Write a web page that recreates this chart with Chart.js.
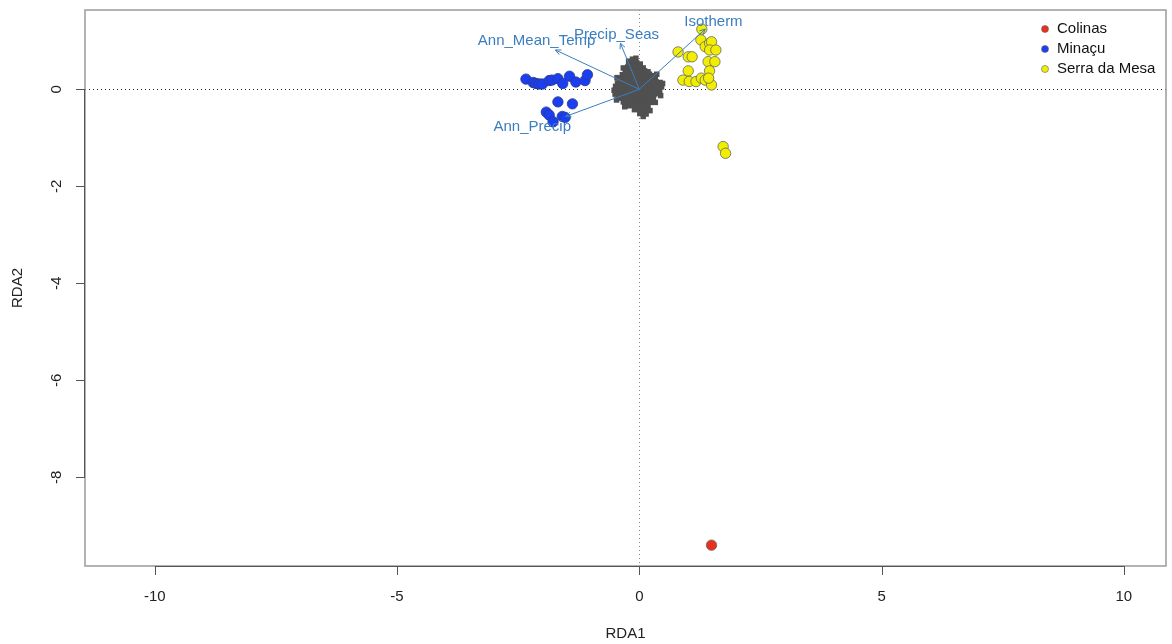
<!DOCTYPE html>
<html>
<head>
<meta charset="utf-8">
<script src="https://cdn.jsdelivr.net/npm/chart.js@4.4.1/dist/chart.umd.min.js"></script>
<style>
  body { margin: 0; background: #fff; }
  #wrap { width: 1172px; height: 644px; }
</style>
</head>
<body>
<div id="wrap"><canvas id="rdaChart" width="1172" height="644"></canvas></div>
<script>
// site scores per locality (RDA1, RDA2)
const colinasX = [1.49];
const colinasY = [-9.40];

const minacuX = [-2.34, -2.19, -2.13, -2.07, -2.00, -1.86, -1.80, -1.68, -1.58, -1.44, -1.31, -1.12, -1.07,
                 -1.68, -1.38, -1.92, -1.86, -1.59, -1.53, -1.78];
const minacuY = [0.21, 0.14, 0.12, 0.11, 0.11, 0.18, 0.19, 0.22, 0.12, 0.27, 0.15, 0.18, 0.30,
                 -0.26, -0.30, -0.47, -0.53, -0.56, -0.58, -0.67];

const serraX = [1.29, 0.80, 1.01, 1.09, 1.27, 1.36, 1.45, 1.49, 1.45, 1.58, 1.42, 1.56, 1.01, 1.45,
                0.90, 1.03, 1.17, 1.28, 1.36, 1.49, 1.43, 1.73, 1.78];
const serraY = [1.24, 0.77, 0.67, 0.67, 1.02, 0.88, 0.95, 0.98, 0.81, 0.81, 0.57, 0.57, 0.38, 0.38,
                0.19, 0.16, 0.16, 0.23, 0.19, 0.09, 0.23, -1.18, -1.32];

// species (SNP) scores, the grey cloud at the origin
const speciesScores = [
  [-0.14,0.62],[-0.07,0.64],[-0.22,0.58],
  [-0.21,0.53],[-0.13,0.55],[-0.05,0.54],[0.02,0.52],
  [-0.24,0.46],[-0.16,0.47],[-0.08,0.45],[0.00,0.46],[0.08,0.44],[-0.33,0.44],
  [-0.29,0.37],[-0.21,0.39],[-0.13,0.38],[-0.05,0.37],[0.03,0.39],[0.11,0.38],[0.18,0.36],
  [-0.35,0.30],[-0.27,0.31],[-0.19,0.29],[-0.11,0.30],[-0.03,0.31],[0.05,0.29],[0.13,0.30],[0.21,0.31],[0.27,0.28],[0.36,0.31],
  [-0.39,0.22],[-0.31,0.23],[-0.23,0.21],[-0.15,0.22],[-0.07,0.23],[0.01,0.21],[0.09,0.22],[0.17,0.23],[0.25,0.21],[0.33,0.22],[-0.46,0.24],
  [-0.45,0.13],[-0.37,0.15],[-0.29,0.14],[-0.21,0.13],[-0.13,0.15],[-0.05,0.14],[0.03,0.13],[0.11,0.15],[0.19,0.14],[0.27,0.13],[0.35,0.15],[0.43,0.14],[0.48,0.12],
  [-0.49,0.06],[-0.41,0.05],[-0.33,0.07],[-0.25,0.06],[-0.17,0.05],[-0.09,0.07],[-0.01,0.06],[0.07,0.05],[0.15,0.07],[0.23,0.06],[0.31,0.05],[0.39,0.07],[0.46,0.05],
  [-0.52,-0.02],[-0.44,-0.01],[-0.36,-0.03],[-0.28,-0.02],[-0.20,-0.01],[-0.12,-0.03],[-0.04,-0.02],[0.04,-0.01],[0.12,-0.03],[0.20,-0.02],[0.28,-0.01],[0.36,-0.03],[0.42,-0.02],
  [-0.50,-0.10],[-0.42,-0.11],[-0.34,-0.09],[-0.26,-0.10],[-0.18,-0.11],[-0.10,-0.09],[-0.02,-0.10],[0.06,-0.11],[0.14,-0.09],[0.22,-0.10],[0.30,-0.11],[0.36,-0.09],[0.44,-0.13],
  [-0.43,-0.18],[-0.35,-0.17],[-0.27,-0.19],[-0.19,-0.18],[-0.11,-0.17],[-0.03,-0.19],[0.05,-0.18],[0.13,-0.17],[0.21,-0.19],[0.29,-0.18],[-0.47,-0.22],
  [-0.33,-0.26],[-0.25,-0.27],[-0.17,-0.25],[-0.09,-0.26],[-0.01,-0.27],[0.07,-0.25],[0.15,-0.26],[0.23,-0.27],[0.33,-0.27],
  [-0.22,-0.34],[-0.14,-0.33],[-0.06,-0.35],[0.02,-0.34],[0.10,-0.33],[0.18,-0.35],[-0.30,-0.36],
  [-0.10,-0.42],[-0.02,-0.41],[0.06,-0.43],[0.14,-0.42],[0.22,-0.44],
  [0.01,-0.50],[0.09,-0.49],[0.14,-0.51],
  [0.08,-0.56]
];

// environmental biplot arrows
const envNames = ["Ann_Mean_Temp", "Precip_Seas", "Isotherm", "Ann_Precip"];
const envX = [-1.73, -0.39, 1.36, -1.52];
const envY = [0.81, 0.95, 1.24, -0.56];
const envLabelX = [-2.12, -0.47, 1.53, -2.21];
const envLabelY = [1.00, 1.13, 1.39, -0.77];

const legendNames = ["Colinas", "Minaçu", "Serra da Mesa"];
const xTicks = [-10, -5, 0, 5, 10];
const yTicks = [0, -2, -4, -6, -8];

const colors = {
    colinas: "#e8301c",
    minacu: "#1b3ff0",
    serra: "#f2ee00",
    species: "#505050",
    env: "#3a7ec0"
};
const FONT = '"Liberation Sans", Arial, sans-serif';

function toPoints(xs, ys) {
    return xs.map((x, i) => ({ x: x, y: ys[i] }));
}

const rdaPlugin = {
    id: "rdaDecor",
    beforeDatasetsDraw(chart) {
        const ctx = chart.ctx;
        const a = chart.chartArea;
        const xs = chart.scales.x, ys = chart.scales.y;
        ctx.save();
        ctx.lineWidth = 1;
        ctx.setLineDash([1, 3]);
        ctx.strokeStyle = "#222";
        const y0 = Math.round(ys.getPixelForValue(0)) + 0.5;
        ctx.beginPath(); ctx.moveTo(a.left, y0); ctx.lineTo(a.right, y0); ctx.stroke();
        ctx.strokeStyle = "#888";
        const x0 = Math.round(xs.getPixelForValue(0)) + 0.5;
        ctx.beginPath(); ctx.moveTo(x0, a.top); ctx.lineTo(x0, a.bottom); ctx.stroke();
        ctx.restore();
    },
    afterDatasetsDraw(chart) {
        const ctx = chart.ctx;
        const xs = chart.scales.x, ys = chart.scales.y;
        const ox = xs.getPixelForValue(0), oy = ys.getPixelForValue(0);
        ctx.save();
        ctx.strokeStyle = colors.env;
        ctx.fillStyle = colors.env;
        ctx.lineWidth = 1;
        envNames.forEach((name, i) => {
            const tx = xs.getPixelForValue(envX[i]);
            const ty = ys.getPixelForValue(envY[i]);
            const ang = Math.atan2(ty - oy, tx - ox);
            ctx.beginPath();
            ctx.moveTo(ox, oy); ctx.lineTo(tx, ty);
            ctx.moveTo(tx - 6 * Math.cos(ang - 0.45), ty - 6 * Math.sin(ang - 0.45));
            ctx.lineTo(tx, ty);
            ctx.lineTo(tx - 6 * Math.cos(ang + 0.45), ty - 6 * Math.sin(ang + 0.45));
            ctx.stroke();
        });
        ctx.font = "15px " + FONT;
        ctx.textAlign = "center";
        ctx.textBaseline = "middle";
        envNames.forEach((name, i) => {
            ctx.fillText(name, xs.getPixelForValue(envLabelX[i]), ys.getPixelForValue(envLabelY[i]));
        });
        ctx.restore();
    },
    afterDraw(chart) {
        const ctx = chart.ctx;
        const a = chart.chartArea;
        const xs = chart.scales.x, ys = chart.scales.y;
        ctx.save();

        // plot frame
        ctx.strokeStyle = "#9a9a9a";
        ctx.lineWidth = 1.5;
        ctx.strokeRect(a.left, a.top, a.right - a.left, a.bottom - a.top);

        // axes with ticks
        ctx.strokeStyle = "#555";
        ctx.lineWidth = 1;
        const bx = xs.getPixelForValue(xTicks[0]), ex = xs.getPixelForValue(xTicks[xTicks.length - 1]);
        ctx.beginPath();
        ctx.moveTo(bx, a.bottom + 0.5); ctx.lineTo(ex, a.bottom + 0.5);
        xTicks.forEach(t => {
            const px = Math.round(xs.getPixelForValue(t)) + 0.5;
            ctx.moveTo(px, a.bottom); ctx.lineTo(px, a.bottom + 9);
        });
        const by = ys.getPixelForValue(yTicks[0]), ey = ys.getPixelForValue(yTicks[yTicks.length - 1]);
        ctx.moveTo(a.left - 0.5, by); ctx.lineTo(a.left - 0.5, ey);
        yTicks.forEach(t => {
            const py = Math.round(ys.getPixelForValue(t)) + 0.5;
            ctx.moveTo(a.left, py); ctx.lineTo(a.left - 9, py);
        });
        ctx.stroke();

        ctx.fillStyle = "#222";
        ctx.font = "15px " + FONT;
        ctx.textAlign = "center";
        ctx.textBaseline = "middle";
        xTicks.forEach(t => ctx.fillText(String(t), xs.getPixelForValue(t), a.bottom + 31));
        yTicks.forEach(t => {
            ctx.save();
            ctx.translate(a.left - 28, ys.getPixelForValue(t));
            ctx.rotate(-Math.PI / 2);
            ctx.fillText(String(t), 0, 0);
            ctx.restore();
        });

        // axis titles
        ctx.fillText("RDA1", (a.left + a.right) / 2, 634);
        ctx.save();
        ctx.translate(18, (a.top + a.bottom) / 2);
        ctx.rotate(-Math.PI / 2);
        ctx.fillText("RDA2", 0, 0);
        ctx.restore();

        // legend
        const legendColors = [colors.colinas, colors.minacu, colors.serra];
        ctx.textAlign = "left";
        legendNames.forEach((name, i) => {
            const ly = 29 + i * 20;
            ctx.beginPath();
            ctx.arc(1045, ly, 3.5, 0, Math.PI * 2);
            ctx.fillStyle = legendColors[i];
            ctx.fill();
            ctx.strokeStyle = "#666";
            ctx.lineWidth = 0.6;
            ctx.stroke();
            ctx.fillStyle = "#111";
            ctx.fillText(name, 1057, ly);
        });
        ctx.restore();
    }
};

new Chart(document.getElementById("rdaChart"), {
    type: "scatter",
    data: {
        datasets: [
            {
                label: "species",
                data: speciesScores.map(p => ({ x: p[0], y: p[1] })),
                pointStyle: "rect",
                pointRadius: 3.9,
                backgroundColor: colors.species,
                borderColor: colors.species,
                borderWidth: 0,
                order: 4
            },
            {
                label: legendNames[1],
                data: toPoints(minacuX, minacuY),
                pointRadius: 5.2,
                backgroundColor: colors.minacu,
                borderColor: "#2a3a8a",
                borderWidth: 0.8,
                order: 3
            },
            {
                label: legendNames[2],
                data: toPoints(serraX, serraY),
                pointRadius: 5.2,
                backgroundColor: colors.serra,
                borderColor: "#666",
                borderWidth: 0.8,
                order: 2
            },
            {
                label: legendNames[0],
                data: toPoints(colinasX, colinasY),
                pointRadius: 5.2,
                backgroundColor: colors.colinas,
                borderColor: "#666",
                borderWidth: 0.8,
                order: 1
            }
        ]
    },
    options: {
        responsive: false,
        animation: false,
        layout: { padding: { left: 85, top: 10, right: 4, bottom: 78 } },
        plugins: {
            legend: { display: false },
            tooltip: { enabled: false }
        },
        scales: {
            x: { type: "linear", min: -11.44, max: 10.87, display: false },
            y: { type: "linear", min: -9.83, max: 1.635, display: false }
        }
    },
    plugins: [rdaPlugin]
});
</script>
</body>
</html>
